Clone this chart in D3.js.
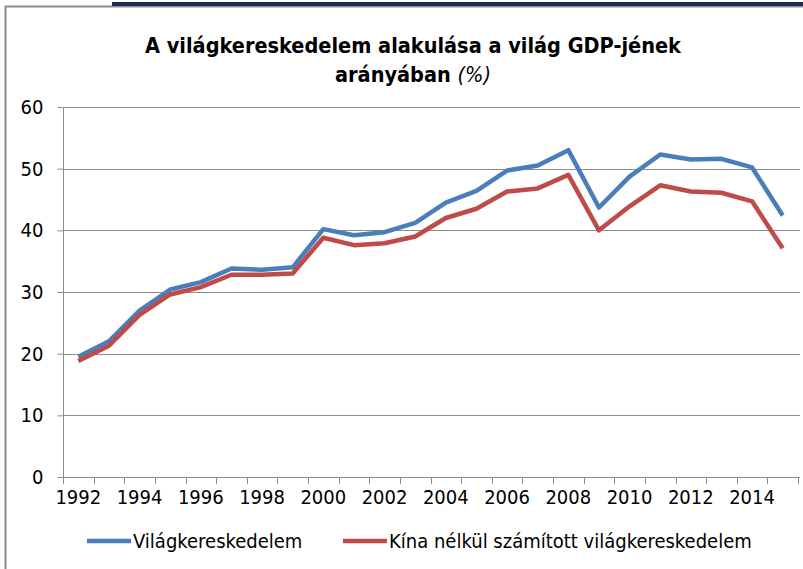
<!DOCTYPE html>
<html>
<head>
<meta charset="utf-8">
<script src="https://cdn.jsdelivr.net/npm/d3@7"></script>
<style>
  body { margin: 0; background: #fff; }
  svg { display: block; }
</style>
</head>
<body>
<svg id="chart" width="803" height="569"></svg>
<script>
// data
const years = d3.range(1992, 2016);
const worldTrade = [19.5, 22.0, 27.0, 30.4, 31.6, 33.8, 33.6, 34.0, 40.2, 39.2, 39.7, 41.2,
                    44.5, 46.4, 49.7, 50.5, 53.0, 43.7, 48.7, 52.3, 51.5, 51.6, 50.2, 42.4];
const withoutChina = [18.8, 21.3, 26.3, 29.6, 30.8, 32.8, 32.8, 33.0, 38.8, 37.6, 37.9, 39.0,
                      42.0, 43.5, 46.3, 46.8, 49.0, 40.0, 43.9, 47.3, 46.3, 46.1, 44.7, 37.1];
const yTicks = [0, 10, 20, 30, 40, 50, 60];
const seriesNames = ["Világkereskedelem", "Kína nélkül számított világkereskedelem"];
const seriesColors = ["#4a7ebb", "#be4b48"];

const font = "'Liberation Sans Narrow', 'DejaVu Sans Condensed', 'Liberation Sans', sans-serif";

let svg = d3.select("#chart");

// frame
svg.append("line").attr("x1", 5.5).attr("x2", 5.5).attr("y1", 6).attr("y2", 569)
  .attr("stroke", "#8c8c8c").attr("stroke-width", 2);
svg.append("line").attr("x1", 5).attr("x2", 803).attr("y1", 6.5).attr("y2", 6.5)
  .attr("stroke", "#8c8c8c").attr("stroke-width", 2);
svg.append("rect").attr("x", 112).attr("y", 2).attr("width", 691).attr("height", 4)
  .attr("fill", "#1f2a55");

// title
let title = svg.append("text")
  .attr("text-anchor", "middle")
  .style("font-family", font)
  .style("font-weight", "bold")
  .style("font-size", "21.5px")
  .attr("fill", "#000");
title.append("tspan").attr("x", 413).attr("y", 53).text("A világkereskedelem alakulása a világ GDP-jének");
let t2 = title.append("tspan").attr("x", 413).attr("y", 82);
t2.append("tspan").text("arányában ");
t2.append("tspan").style("font-weight", "normal").style("font-style", "italic").text("(%)");

let x = d3.scaleBand().domain(years).range([63, 798]).padding(0),
    y = d3.scaleLinear().domain([0, 60]).range([477, 107]);

const cx = d => x(d) + x.bandwidth() / 2;

// gridlines
svg.append("g")
  .selectAll("line")
  .data(yTicks.slice(1))
  .enter().append("line")
  .attr("x1", 63).attr("x2", 800)
  .attr("y1", d => Math.round(y(d)) + 0.5).attr("y2", d => Math.round(y(d)) + 0.5)
  .attr("stroke", "#8c8c8c").attr("stroke-width", 1);

// y axis
let yAxis = svg.append("g")
  .attr("transform", "translate(63.5,0)")
  .call(d3.axisLeft(y).tickValues(yTicks).tickSize(6).tickPadding(14));
yAxis.select(".domain").attr("stroke", "#8c8c8c").attr("d", "M0," + (y(0) + 0.5) + "V" + y(60) + "");
yAxis.selectAll(".tick line").attr("stroke", "#8c8c8c");
yAxis.selectAll(".tick text")
  .style("font-family", font)
  .style("font-size", "20px")
  .attr("fill", "#000");

// x axis: line, boundary ticks, labels every second year
svg.append("line")
  .attr("x1", 63).attr("x2", 800)
  .attr("y1", 477.5).attr("y2", 477.5)
  .attr("stroke", "#8c8c8c");
let bounds = years.map(d => x(d)).concat([x.range()[1]]);
svg.append("g")
  .selectAll("line")
  .data(bounds)
  .enter().append("line")
  .attr("x1", d => Math.round(d) + 0.5).attr("x2", d => Math.round(d) + 0.5)
  .attr("y1", 477).attr("y2", 484)
  .attr("stroke", "#8c8c8c");
svg.append("g")
  .selectAll("text")
  .data(years.filter(d => d % 2 === 0))
  .enter().append("text")
  .attr("x", cx)
  .attr("y", 504)
  .attr("text-anchor", "middle")
  .style("font-family", font)
  .style("font-size", "20px")
  .text(d => d);

// lines
let line = d3.line()
  .x((d, i) => cx(years[i]))
  .y(d => y(d));

[worldTrade, withoutChina].forEach((s, i) => {
  svg.append("path")
    .datum(s)
    .attr("d", line)
    .attr("fill", "none")
    .attr("stroke", seriesColors[i])
    .attr("stroke-width", 4.5)
    .attr("stroke-linejoin", "round");
});

// legend
const legendX = [87, 343];
let legend = svg.append("g")
  .selectAll("g")
  .data(seriesNames)
  .enter().append("g")
  .attr("transform", (d, i) => "translate(" + legendX[i] + ",541)");
legend.append("line")
  .attr("x1", 0).attr("x2", 44)
  .attr("stroke", (d, i) => seriesColors[i])
  .attr("stroke-width", 4.5);
legend.append("text")
  .attr("x", 46)
  .attr("dy", "0.35em")
  .style("font-family", font)
  .style("font-size", "20px")
  .text(d => d);
</script>
</body>
</html>
